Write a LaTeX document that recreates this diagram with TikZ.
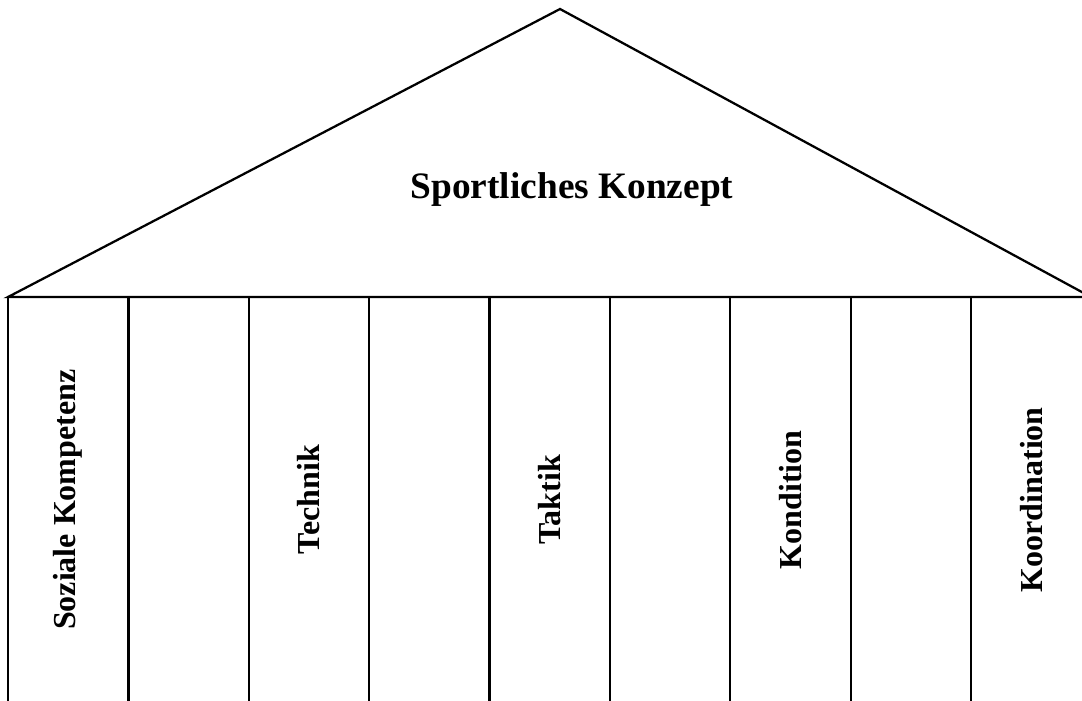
\documentclass[tikz,border=0pt]{standalone}
\usepackage{fontspec}
\setmainfont{Liberation Serif}
\begin{document}
\begin{tikzpicture}
  [x=0.375pt, y=-0.375pt, line width=0.85pt,
   pillar/.style={draw, rotate=90, minimum width=152pt, minimum height=45.14pt,
                  inner sep=0pt, font=\fontsize{12}{14}\selectfont\bfseries},
   roof/.style={draw, line join=miter},
   title/.style={font=\fontsize{14}{17}\selectfont\bfseries, anchor=base}]
  \useasboundingbox (0,0) rectangle (1082,700);

  %Draw roof
  \coordinate (eaveL) at (8,297);
  \coordinate (eaveR) at (1091,297);
  \coordinate (apex) at (560,9);
  \draw[roof] (eaveL) -- (apex) -- (eaveR) -- cycle;
  \node[title] (T) at (572,198) {Sportliches Konzept};

  %Draw pillars
  \foreach \lbl [count=\i] in {Soziale Kompetenz,{},Technik,{},Taktik,{},Kondition,{},Koordination} {
    \node[pillar] (P\i) at (120.375*\i-52.19,499.7) {\lbl};
  }
\end{tikzpicture}
\end{document}
